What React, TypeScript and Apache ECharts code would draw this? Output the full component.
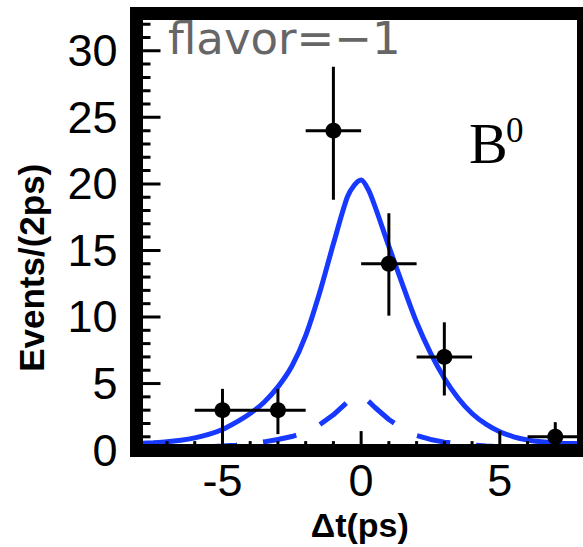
import React, { useEffect, useRef } from "react";
import * as echarts from "echarts";

// Measured histogram bins (bin centres, counts, error-bar extents)
const binCenters = [-5, -3, -1, 1, 3, 7];
const binCounts = [3, 3, 24, 14, 7, 1];
const binHalfWidth = [1, 1, 1, 1, 1, 1];
const errLow = [0.3, 1.2, 18.8, 10.1, 4.1, 0.0];
const errHigh = [4.6, 4.6, 28.8, 17.8, 9.6, 2.1];

// Fit curves
const curveX = [
  -8, -7.5, -7, -6.5, -6, -5.5, -5, -4.5, -4, -3.5, -3, -2.5, -2, -1.5, -1, -0.5, -0.25,
  0, 0.25, 0.5, 1, 1.5, 2, 2.5, 3, 3.5, 4, 4.5, 5, 5.5, 6, 6.5, 7, 7.5, 8,
];
const fitTotal = [
  0.5, 0.55, 0.62, 0.74, 0.92, 1.18, 1.55, 2.1, 2.75, 3.6, 4.75, 6.3, 8.6, 11.8, 15.5, 19.0, 19.9,
  20.3, 19.6, 18.3, 15.3, 12.4, 9.6, 7.3, 5.4, 3.9, 2.75, 1.95, 1.38, 1.0, 0.76, 0.62, 0.54, 0.5, 0.48,
];
const fitBackground = [
  0.12, 0.14, 0.16, 0.19, 0.22, 0.26, 0.31, 0.38, 0.48, 0.62, 0.8, 1.02, 1.35, 1.9, 2.65, 3.6, 3.9,
  4.1, 3.7, 3.2, 2.3, 1.6, 1.1, 0.8, 0.6, 0.47, 0.38, 0.31, 0.26, 0.22, 0.19, 0.16, 0.14, 0.13, 0.12,
];

// Axis ticks
const xMajorTicks = [-5, 0, 5];
const xMinorTicks = [-8, -7, -6, -4, -3, -2, -1, 1, 2, 3, 4, 6, 7];
const yMajorTicks = [0, 5, 10, 15, 20, 25, 30];
const yMinorTicks = [1, 2, 3, 4, 6, 7, 8, 9, 11, 12, 13, 14, 16, 17, 18, 19, 21, 22, 23, 24, 26, 27, 28, 29, 31, 32];

const X_MIN = -8.1;
const X_MAX = 8.0;
const Y_MIN = 0;
const Y_MAX = 32.8;

const BLUE = "#1638ff";
const SANS = "'Liberation Sans', Arial, Helvetica, sans-serif";

const TICK_LEN = { xMajor: 19, xMinor: 9, yMajor: 24, yMinor: 14 };

export default function App() {
  const ref = useRef<HTMLDivElement>(null);

  useEffect(() => {
    if (!ref.current) return;
    const chart = echarts.init(ref.current, undefined, { renderer: "svg" });

    const frameLine = { show: true, onZero: false, lineStyle: { color: "#000", width: 13, cap: "square" } };
    const blackLine = { stroke: "#000", lineWidth: 3 };

    const option: any = {
      animation: false,
      backgroundColor: "#fff",
      grid: { left: 136.5, top: 13.5, width: 447, height: 442, containLabel: false },
      xAxis: [
        {
          type: "value",
          min: X_MIN,
          max: X_MAX,
          position: "bottom",
          z: 10,
          axisLine: frameLine,
          axisTick: { show: false },
          axisLabel: {
            show: true,
            customValues: xMajorTicks.slice(),
            color: "#000",
            fontSize: 45,
            fontFamily: SANS,
            margin: 8,
            formatter: (v: number) => (v < 0 ? "-" + Math.abs(v) : String(v)),
          },
          splitLine: { show: false },
          name: "Δt(ps)",
          nameLocation: "middle",
          nameGap: 55,
          nameTextStyle: { fontSize: 34, fontWeight: "bold", color: "#000", fontFamily: SANS },
        },
        {
          type: "value",
          min: X_MIN,
          max: X_MAX,
          position: "top",
          z: 10,
          axisLine: frameLine,
          axisTick: { show: false },
          axisLabel: { show: false },
          splitLine: { show: false },
        },
      ],
      yAxis: [
        {
          type: "value",
          min: Y_MIN,
          max: Y_MAX,
          position: "left",
          z: 10,
          axisLine: frameLine,
          axisTick: { show: false },
          axisLabel: {
            show: true,
            customValues: yMajorTicks.slice(),
            color: "#000",
            fontSize: 45,
            fontFamily: SANS,
            margin: 19,
          },
          splitLine: { show: false },
          name: "Events/(2ps)",
          nameLocation: "middle",
          nameRotate: 90,
          nameGap: 88,
          nameTextStyle: {
            fontSize: 35,
            fontWeight: "bold",
            color: "#000",
            fontFamily: SANS,
            padding: [0, 72, 0, 0],
          },
        },
        {
          type: "value",
          min: Y_MIN,
          max: Y_MAX,
          position: "right",
          z: 10,
          axisLine: frameLine,
          axisTick: { show: false },
          axisLabel: { show: false },
          splitLine: { show: false },
        },
      ],
      graphic: [
        {
          type: "text",
          z: 1,
          x: 168,
          y: 38,
          style: {
            text: "flavor=−1",
            fontSize: 45,
            fontFamily: "'DejaVu Sans', sans-serif",
            fill: "#666",
            verticalAlign: "middle",
            align: "left",
          },
        },
        {
          type: "text",
          z: 5,
          x: 469,
          y: 143,
          style: {
            text: "B",
            fontSize: 58,
            fontFamily: "'Liberation Serif', 'Times New Roman', serif",
            fill: "#000",
            verticalAlign: "middle",
            align: "left",
          },
        },
        {
          type: "text",
          z: 5,
          x: 506,
          y: 130,
          style: {
            text: "0",
            fontSize: 35,
            fontFamily: "'Liberation Serif', 'Times New Roman', serif",
            fill: "#000",
            verticalAlign: "middle",
            align: "left",
          },
        },
      ],
      series: [
        {
          type: "line",
          name: "total",
          xAxisIndex: 0,
          yAxisIndex: 0,
          data: curveX.map((x, i) => [x, fitTotal[i]]),
          smooth: 0.3,
          showSymbol: false,
          lineStyle: { color: BLUE, width: 5 },
          z: 3,
        },
        {
          type: "line",
          name: "background",
          xAxisIndex: 0,
          yAxisIndex: 0,
          data: curveX.map((x, i) => [x, fitBackground[i]]),
          smooth: false,
          showSymbol: false,
          lineStyle: { color: BLUE, width: 5, type: [34, 26], dashOffset: -4 },
          z: 3,
        },
        {
          type: "custom",
          name: "errors",
          xAxisIndex: 0,
          yAxisIndex: 0,
          clip: true,
          z: 4,
          data: binCenters.map((x, i) => [x, binCounts[i], x - binHalfWidth[i], x + binHalfWidth[i], errLow[i], errHigh[i]]),
          renderItem: (params: any, api: any) => {
            const x = api.value(0);
            const y = api.value(1);
            const l = api.coord([api.value(2), y]);
            const r = api.coord([api.value(3), y]);
            const lo = api.coord([x, api.value(4)]);
            const hi = api.coord([x, api.value(5)]);
            const children: any[] = [
              { type: "line", shape: { x1: l[0], y1: l[1], x2: r[0], y2: r[1] }, style: blackLine },
              { type: "line", shape: { x1: lo[0], y1: lo[1], x2: hi[0], y2: hi[1] }, style: blackLine },
            ];
            // Axis tick marks, drawn once, positioned through the same scales
            if (params.dataIndex === 0) {
              const addX = (vals: number[], len: number) =>
                vals.forEach((v) => {
                  const p = api.coord([v, Y_MIN]);
                  children.push({ type: "line", shape: { x1: p[0], y1: p[1], x2: p[0], y2: p[1] - len }, style: blackLine });
                });
              const addY = (vals: number[], len: number) =>
                vals.forEach((v) => {
                  const p = api.coord([X_MIN, v]);
                  children.push({ type: "line", shape: { x1: p[0], y1: p[1], x2: p[0] + len, y2: p[1] }, style: blackLine });
                });
              addX(xMajorTicks, TICK_LEN.xMajor);
              addX(xMinorTicks, TICK_LEN.xMinor);
              addY(yMajorTicks, TICK_LEN.yMajor);
              addY(yMinorTicks, TICK_LEN.yMinor);
            }
            return { type: "group", children };
          },
        },
        {
          type: "scatter",
          name: "data",
          xAxisIndex: 0,
          yAxisIndex: 0,
          data: binCenters.map((x, i) => [x, binCounts[i]]),
          symbol: "circle",
          symbolSize: 16,
          itemStyle: { color: "#000", opacity: 1 },
          z: 5,
        },
      ],
    };

    chart.setOption(option);
    return () => chart.dispose();
  }, []);

  return (
    <div
      ref={ref}
      style={{ position: "absolute", left: 0, top: 0, width: 583, height: 547 }}
    />
  );
}
